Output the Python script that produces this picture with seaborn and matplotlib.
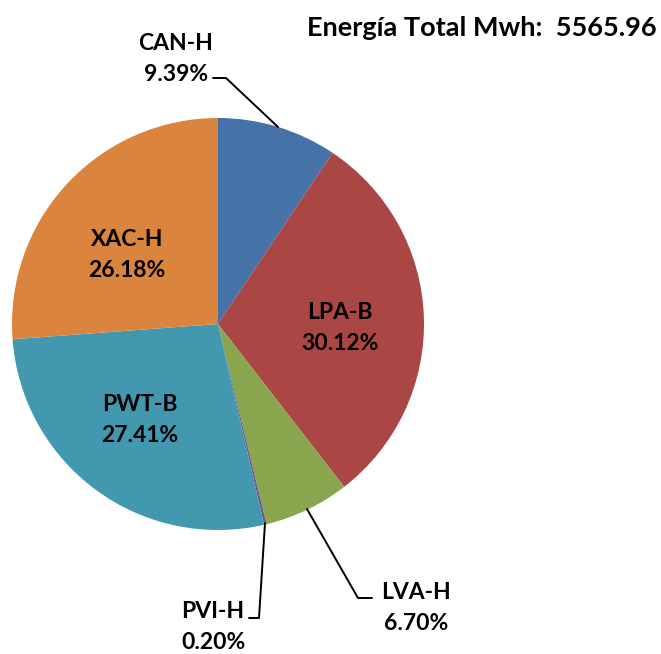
import matplotlib
matplotlib.use("Agg")
import matplotlib.pyplot as plt
import seaborn as sns

# datos del grafico
plantas = ["CAN-H", "LPA-B", "LVA-H", "PVI-H", "PWT-B", "XAC-H"]
porcentajes = [9.39, 30.12, 6.70, 0.20, 27.41, 26.18]
colores = ["#4572A7", "#AA4643", "#89A54E", "#71588F", "#4198AF", "#DB843D"]
titulo = "Energía Total Mwh:  5565.96"

sns.set_theme(style="white")
plt.rcParams['font.family'] = ['Lato', 'DejaVu Sans']

W, H = 661, 654
fig = plt.figure(figsize=(W / 100, H / 100), dpi=100)
ax = fig.add_axes([0, 0, 1, 1])

cx, cy, r = 218, H - 324, 206
ax.pie(porcentajes, colors=sns.color_palette(colores), startangle=90,
       counterclock=False, center=(cx, cy), radius=r,
       wedgeprops={'linewidth': 0}, frame=True)
ax.set_xlim(0, W)
ax.set_ylim(0, H)
ax.set_aspect('equal')
ax.axis('off')

font = dict(fontsize=16.5, fontweight='bold', color='black', ha='center', va='center',
            linespacing=1.55)

# etiquetas (posiciones en pixeles, y desde arriba)
pos = {
    "CAN-H": (176, 59),
    "LPA-B": (340, 328),
    "LVA-H": (416, 608),
    "PVI-H": (213, 627),
    "PWT-B": (140, 420),
    "XAC-H": (127, 255),
}
for nombre, p in zip(plantas, porcentajes):
    x, y = pos[nombre]
    ax.text(x, H - y, f"{nombre}\n{p:.2f}%", **font)

# lineas guia
lineas = [
    [(213, 78), (226, 78), (278, 127)],
    [(307, 509), (358, 598), (372, 598)],
    [(265, 523), (259, 618), (249, 618)],
]
for pts in lineas:
    xs = [a for a, b in pts]
    ys = [H - b for a, b in pts]
    ax.plot(xs, ys, color='black', lw=1.4)

fig.text(657 / W, 1 - 28 / H, titulo, fontsize=19.5, fontweight='bold',
         color='black', ha='right', va='center')

fig.savefig("out.png", dpi=100)
